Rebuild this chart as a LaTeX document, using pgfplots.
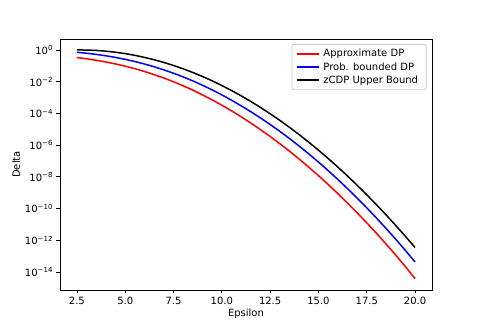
\documentclass[border=0pt]{standalone}
\usepackage{fontspec}
\setmainfont{DejaVu Sans}
\usepackage{pgfplots}
\pgfplotsset{compat=1.18}
\usepackage{pgfplotstable}

% log10(delta) for each epsilon
\pgfplotstableread{
eps   approx   prob     zcdp
2.5   -0.480   -0.150   -0.000
3.0   -0.556   -0.206   -0.006
3.5   -0.651   -0.281   -0.031
4.0   -0.758   -0.368   -0.078
4.5   -0.884   -0.474   -0.144
5.0   -1.022   -0.592   -0.232
5.5   -1.180   -0.730   -0.340
6.0   -1.359   -0.889   -0.469
6.5   -1.558   -1.058   -0.618
7.0   -1.768   -1.258   -0.788
7.5   -2.009   -1.469   -0.979
8.0   -2.260   -1.700   -1.190
8.5   -2.532   -1.952   -1.422
9.0   -2.835   -2.225   -1.675
9.5   -3.148   -2.518   -1.948
10.0  -3.482   -2.832   -2.242
10.5  -3.837   -3.167   -2.557
11.0  -4.212   -3.522   -2.892
11.5  -4.608   -3.893   -3.248
12.0  -5.025   -4.285   -3.625
12.5  -5.452   -4.697   -4.022
13.0  -5.909   -5.129   -4.439
13.5  -6.378   -5.583   -4.878
14.0  -6.877   -6.057   -5.337
14.5  -7.387   -6.552   -5.817
15.0  -7.927   -7.067   -6.317
15.5  -8.478   -7.603   -6.838
16.0  -9.050   -8.160   -7.380
16.5  -9.652   -8.737   -7.942
17.0  -10.265  -9.335   -8.525
17.5  -10.898  -9.953   -9.128
18.0  -11.553  -10.593  -9.753
18.5  -12.237  -11.252  -10.397
19.0  -12.933  -11.933  -11.063
19.5  -13.659  -12.639  -11.749
20.0  -14.416  -13.366  -12.456
}\deltas

\begin{document}
\begin{tikzpicture}
\begin{axis}[
  scale only axis,
  width=372pt, height=251pt,
  xmin=1.625, xmax=20.875,
  ymin=-15.13, ymax=0.69,
  xtick={2.5,5,7.5,10,12.5,15,17.5,20},
  ytick={-14,-12,-10,-8,-6,-4,-2,0},
  yticklabels={10\textsuperscript{−14},10\textsuperscript{−12},10\textsuperscript{−10},10\textsuperscript{−8},10\textsuperscript{−6},10\textsuperscript{−4},10\textsuperscript{−2},10\textsuperscript{0}},
  xticklabel style={/pgf/number format/.cd, fixed, fixed zerofill, precision=1, assume math mode=true},
  tick label style={font=\fontsize{10}{12}\selectfont},
  label style={font=\fontsize{10}{12}\selectfont},
  tick pos=left,
  tick align=outside,
  major tick length=3.5pt,
  every tick/.style={black, line width=0.8pt},
  axis line style={line width=0.8pt},
  xlabel={Epsilon},
  ylabel={Delta},
  xlabel style={yshift=3pt},
  ylabel style={yshift=-2pt},
  legend cell align=left,
  legend style={at={(1,1)}, anchor=north east, xshift=-5.5pt, yshift=-5pt,
    draw=black!20, rounded corners=2pt, line width=0.8pt,
    font=\fontsize{10}{12}\selectfont, row sep=0pt, inner xsep=4.5pt, inner ysep=3pt,
    nodes={inner xsep=3.5pt}},
  legend image code/.code={\draw[#1] (0pt,0pt) -- (22pt,0pt);},
]
\addplot[red, line width=1.5pt] table[x=eps, y=approx] {\deltas};
\addplot[blue, line width=1.5pt] table[x=eps, y=prob] {\deltas};
\addplot[black, line width=1.5pt] table[x=eps, y=zcdp] {\deltas};
\legend{Approximate DP, Prob. bounded DP, zCDP Upper Bound}
\end{axis}
\path ([xshift=-60pt,yshift=-36pt]current axis.south west) rectangle ([xshift=48pt,yshift=39pt]current axis.north east);
\end{tikzpicture}
\end{document}
